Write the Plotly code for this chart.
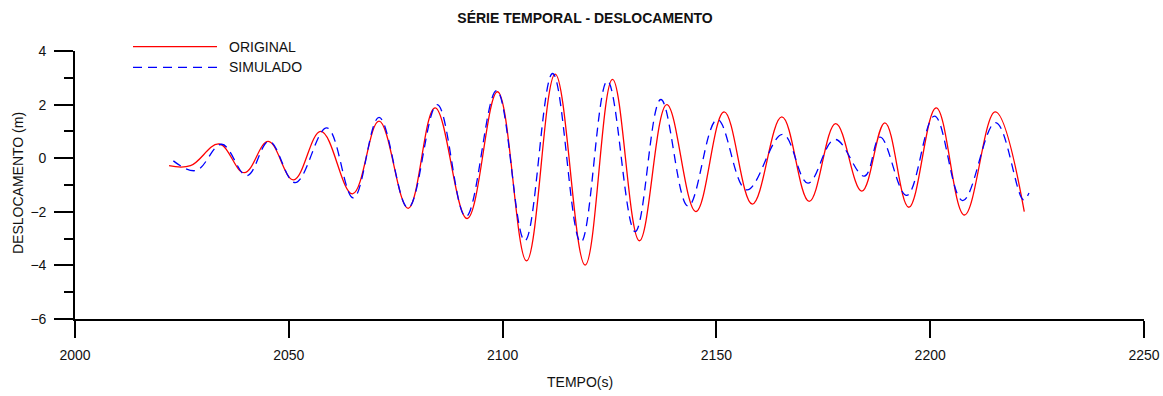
import plotly.graph_objects as go

# Peaks and troughs of each displacement record (time in s, displacement in m)
orig_t = [2022.0, 2027.0, 2033.7, 2039.6, 2045.2, 2051.1, 2057.5, 2064.9, 2071.1,
          2077.9, 2084.2, 2091.7, 2098.8, 2105.6, 2112.3, 2119.3, 2125.7, 2132.0,
          2138.4, 2145.2, 2151.8, 2158.4, 2165.3, 2171.7, 2177.9, 2184.0, 2189.4,
          2195.0, 2201.4, 2208.0, 2215.2, 2222.0]
orig_y = [-0.28, -0.28, 0.53, -0.54, 0.63, -0.81, 1.00, -1.33, 1.38,
          -1.87, 1.88, -2.25, 2.48, -3.83, 3.14, -3.99, 2.94, -3.08,
          2.00, -1.99, 1.73, -1.71, 1.54, -1.61, 1.29, -1.23, 1.32,
          -1.83, 1.88, -2.12, 1.73, -1.99]

sim_t = [2023.0, 2028.3, 2034.3, 2040.2, 2045.4, 2051.5, 2058.9, 2065.1, 2071.1,
         2077.9, 2084.7, 2091.4, 2098.6, 2105.2, 2111.7, 2118.3, 2124.5, 2131.0,
         2137.0, 2143.4, 2150.2, 2157.1, 2165.5, 2171.4, 2177.7, 2184.6, 2188.3,
         2194.5, 2201.0, 2207.6, 2215.3, 2221.8, 2223.1]
sim_y = [-0.10, -0.46, 0.52, -0.65, 0.63, -0.91, 1.13, -1.48, 1.52,
         -1.85, 2.00, -2.18, 2.52, -3.08, 3.16, -3.14, 2.88, -2.74,
         2.19, -1.79, 1.44, -1.18, 0.89, -0.93, 0.70, -0.67, 0.79,
         -1.39, 1.57, -1.58, 1.33, -1.55, -1.30]

series_names = ["ORIGINAL", "SIMULADO"]
x_ticks = [2000, 2050, 2100, 2150, 2200, 2250]
y_ticks = [-6, -4, -2, 0, 2, 4]

W, H = 1163, 396
ML, MR, MT, MB = 75, 19, 51, 77
PW, PH = W - ML - MR, H - MT - MB
FONT = "Liberation Sans, Arial, sans-serif"
RED, BLUE = "#ff0000", "#0000ff"
DASH = "9px,6px"


def px(x):
    return (x - ML) / PW


def py(y):
    return (H - MB - y) / PH


fig = go.Figure()
fig.add_trace(go.Scatter(
    x=orig_t, y=orig_y, mode="lines", name=series_names[0],
    line=dict(color=RED, width=1.3, shape="spline", smoothing=1.1),
))
fig.add_trace(go.Scatter(
    x=sim_t, y=sim_y, mode="lines", name=series_names[1],
    line=dict(color=BLUE, width=1.3, shape="spline", smoothing=1.1, dash=DASH),
))

axis_common = dict(
    showline=True, linecolor="black", linewidth=1.6,
    ticks="outside", tickcolor="black", tickwidth=1.6,
    showgrid=False, zeroline=False, automargin=False,
    tickfont=dict(family=FONT, size=14, color="#111"),
)
fig.update_xaxes(range=[2000, 2250], tickvals=x_ticks, ticklen=17,
                 ticklabelstandoff=5, **axis_common)
fig.update_yaxes(range=[-6, 4], tickvals=y_ticks, ticklen=19,
                 ticklabelstandoff=5,
                 minor=dict(dtick=1, ticks="outside", ticklen=9,
                            tickwidth=1.6, tickcolor="black", showgrid=False),
                 **axis_common)

# Hand-drawn legend with long line samples
legend_rows = [(46.7, RED, "solid"), (67.3, BLUE, DASH)]
shapes, annotations = [], []
for (yy, col, dash), name in zip(legend_rows, series_names):
    shapes.append(dict(type="line", xref="paper", yref="paper",
                       x0=px(133), x1=px(217), y0=py(yy), y1=py(yy),
                       line=dict(color=col, width=1.3, dash=dash)))
    annotations.append(dict(text=name, xref="paper", yref="paper",
                            x=px(227), y=py(yy), xanchor="left", yanchor="middle",
                            showarrow=False,
                            font=dict(family=FONT, size=14, color="#111")))

annotations.append(dict(text="TEMPO(s)", xref="paper", yref="paper",
                        x=px(580), y=py(382), xanchor="center", yanchor="middle",
                        showarrow=False, font=dict(family=FONT, size=14, color="#111")))
annotations.append(dict(text="DESLOCAMENTO (m)", xref="paper", yref="paper",
                        x=px(18), y=py(183), xanchor="center", yanchor="middle",
                        textangle=-90, showarrow=False,
                        font=dict(family=FONT, size=14, color="#111")))

fig.update_layout(
    width=W, height=H,
    margin=dict(l=ML, r=MR, t=MT, b=MB),
    paper_bgcolor="white", plot_bgcolor="white",
    showlegend=False,
    title=dict(text="<b>SÉRIE TEMPORAL - DESLOCAMENTO</b>",
               x=585 / W, xref="container", xanchor="center",
               y=1 - 18 / H, yref="container", yanchor="middle",
               font=dict(family=FONT, size=14, color="#111")),
    shapes=shapes,
    annotations=annotations,
)

fig.write_html("out.html")
